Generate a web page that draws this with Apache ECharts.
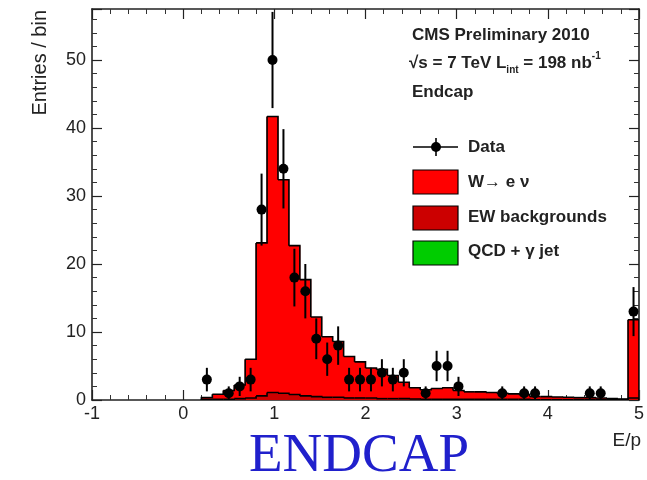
<!DOCTYPE html>
<html><head><meta charset="utf-8">
<script src="https://cdn.jsdelivr.net/npm/echarts@6/dist/echarts.min.js"></script>
<style>html,body{margin:0;padding:0;background:#fff}#c{width:647px;height:480px}</style>
</head><body><div id="c"></div>
<script>
// E/p histogram bins (lower edges), width 0.12
const binLow = [0.20,0.32,0.44,0.56,0.68,0.80,0.92,1.04,1.16,1.28,1.40,1.52,1.64,1.76,1.88,2.00,2.12,2.24,2.36,2.48,2.60,2.72,2.84,2.96,3.08,3.20,3.32,3.44,3.56,3.68,3.80,3.92,4.04,4.16,4.28,4.40,4.52,4.64,4.76,4.88];
const binWidth = 0.12;
const dataCounts = [3,0,1,2,3,28,50,34,18,16,9,6,8,3,3,3,4,3,4,0,1,5,5,2,0,0,0,1,0,1,1,0,0,0,0,1,1,0,0,13];
const qcdValues = [0,0,0,0,0,0,0,0,0,0,0,0,0,0,0,0,0,0,0,0,0,0,0,0,0,0,0,0,0,0,0,0,0,0,0,0,0,0,0,0];
const ewValues = [0.05,0.1,0.1,0.2,0.3,0.6,1.1,1.0,0.8,0.6,0.5,0.4,0.4,0.3,0.3,0.3,0.2,0.2,0.2,0.15,0.1,0.1,0.1,0.1,0.1,0.1,0.1,0.1,0.1,0.1,0.05,0.05,0.05,0.05,0.05,0.05,0.05,0.05,0.05,0.3];
const wenuValues = [0.3,0.75,1.3,2.0,5.7,22.5,40.6,31.4,21.9,17.1,11.7,8.9,8.2,6.1,5.3,4.4,4.3,3.4,2.4,1.65,1.4,1.6,1.7,1.3,1.1,1.1,1.0,0.9,0.8,0.7,0.45,0.45,0.4,0.35,0.3,0.3,0.25,0.15,0.1,11.5];
const xTicks = [-1,0,1,2,3,4,5];
const yTicks = [0,10,20,30,40,50];

const FONT = 'Liberation Sans, Arial, sans-serif';
const chart = echarts.init(document.getElementById('c'), null, {renderer:'canvas'});

function stackData(vals, bases){
  return vals.map((v,i)=>[binLow[i], v, bases[i]]);
}
const base0 = qcdValues.map(()=>0);
const base1 = qcdValues.slice();
const base2 = qcdValues.map((q,i)=>q+ewValues[i]);
const total = base2.map((b,i)=>b+wenuValues[i]);

function rectRender(color){
  return function(params, api){
    const x0 = api.value(0), v = api.value(1), b = api.value(2);
    if (v <= 0) return null;
    const p0 = api.coord([x0, b]);
    const p1 = api.coord([x0 + binWidth, b + v]);
    return {type:'rect', shape:{x:p0[0]-0.4, y:p1[1], width:p1[0]-p0[0]+0.8, height:p0[1]-p1[1]},
      style:{fill:color, stroke:null}};
  };
}
function outlineData(tops){
  return tops.map((t,i)=>[binLow[i], t, i+1<tops.length ? tops[i+1] : 0, i===0 ? 1 : 0]);
}
function outlineRender(params, api){
  const x0 = api.value(0), t = api.value(1), nt = api.value(2), first = api.value(3);
  const a = api.coord([x0, t]);
  const b = api.coord([x0 + binWidth, t]);
  const c = api.coord([x0 + binWidth, nt]);
  const pts = [];
  if (first) pts.push(api.coord([x0, 0]));
  pts.push(a, b, c);
  return {type:'polyline', shape:{points:pts}, style:{stroke:'#000', lineWidth:1.6, fill:null}};
}
const pointData = [];
dataCounts.forEach((n,i)=>{ if(n>0) pointData.push([binLow[i]+binWidth/2, n]); });

function errRender(params, api){
  const x = api.value(0), n = api.value(1);
  const e = Math.sqrt(n);
  const p0 = api.coord([x, n - e]);
  const p1 = api.coord([x, n + e]);
  return {type:'line', shape:{x1:p0[0], y1:p0[1], x2:p1[0], y2:p1[1]}, style:{stroke:'#000', lineWidth:2}};
}

function axisLine(){ return {show:true, onZero:false, lineStyle:{color:'#222', width:1.6}}; }
const tickStyle = {show:true, inside:true, length:10, lineStyle:{color:'#222', width:1.2}};
const minorStyle = {show:true, splitNumber:5, length:5, lineStyle:{color:'#333', width:1}};

const option = {
  animation:false,
  backgroundColor:'#fff',
  grid:{left:92, right:3, top:9, bottom:80, containLabel:false},
  xAxis:[
    {type:'value', min:xTicks[0], max:xTicks[xTicks.length-1], interval:1, position:'bottom',
      axisLine:axisLine(), splitLine:{show:false}, axisTick:tickStyle, minorTick:minorStyle,
      axisLabel:{fontSize:18, color:'#222', fontFamily:FONT, margin:5}},
    {type:'value', min:xTicks[0], max:xTicks[xTicks.length-1], interval:1, position:'top',
      axisLine:axisLine(), splitLine:{show:false}, axisTick:tickStyle, minorTick:minorStyle,
      axisLabel:{show:false}}
  ],
  yAxis:[
    {type:'value', min:yTicks[0], max:57.5, interval:10, position:'left',
      axisLine:axisLine(), splitLine:{show:false}, axisTick:tickStyle, minorTick:minorStyle,
      axisLabel:{fontSize:18, color:'#222', fontFamily:FONT, margin:6, showMaxLabel:false,
        formatter:v=> yTicks.indexOf(v)>=0 ? String(v) : ''}},
    {type:'value', min:yTicks[0], max:57.5, interval:10, position:'right',
      axisLine:axisLine(), splitLine:{show:false}, axisTick:tickStyle, minorTick:minorStyle,
      axisLabel:{show:false}}
  ],
  series:[
    {name:'QCD + γ jet', type:'custom', renderItem:rectRender('#00cc00'), data:stackData(qcdValues, base0), clip:true, z:2},
    {name:'EW backgrounds', type:'custom', renderItem:rectRender('#cc0000'), data:stackData(ewValues, base1), clip:true, z:2},
    {name:'W→ e ν', type:'custom', renderItem:rectRender('#ff0000'), data:stackData(wenuValues, base2), clip:true, z:2},
    {type:'custom', renderItem:outlineRender, data:outlineData(base2), clip:true, z:3},
    {type:'custom', renderItem:outlineRender, data:outlineData(total), clip:true, z:3},
    {type:'custom', renderItem:errRender, data:pointData, clip:true, z:4},
    {name:'Data', type:'scatter', data:pointData, symbol:'circle', symbolSize:10, itemStyle:{color:'#000', opacity:1}, z:5, clip:true}
  ],
  graphic:[
    {type:'text', x:40, y:10, rotation:Math.PI/2, style:{text:'Entries / bin', font:'20px '+FONT, fill:'#222', align:'right', verticalAlign:'middle'}},
    {type:'text', x:641, y:441, style:{text:'E/p', font:'19px '+FONT, fill:'#222', align:'right', verticalAlign:'middle'}},
    {type:'text', x:359, y:457, style:{text:'ENDCAP', font:'55px Liberation Serif, Times New Roman, serif', fill:'#2020cc', align:'center', verticalAlign:'middle'}},
    {type:'text', x:412, y:35, style:{text:'CMS Preliminary 2010', font:'bold 17px '+FONT, fill:'#222', verticalAlign:'middle'}},
    {type:'text', x:409, y:63, style:{
      text:'{m|√s = 7 TeV L}{s|int}{m| = 198 nb}{u|-1}',
      verticalAlign:'middle',
      rich:{
        m:{font:'bold 17px '+FONT, fill:'#222', lineHeight:24, verticalAlign:'middle'},
        s:{font:'bold 10px '+FONT, fill:'#222', lineHeight:24, verticalAlign:'bottom'},
        u:{font:'bold 10px '+FONT, fill:'#222', lineHeight:24, verticalAlign:'top'}
      }}},
    {type:'text', x:412, y:92, style:{text:'Endcap', font:'bold 17px '+FONT, fill:'#222', verticalAlign:'middle'}},
    // legend
    {type:'line', shape:{x1:413, y1:147, x2:458, y2:147}, style:{stroke:'#000', lineWidth:1.6}},
    {type:'line', shape:{x1:436, y1:138, x2:436, y2:156}, style:{stroke:'#000', lineWidth:1.6}},
    {type:'circle', shape:{cx:436, cy:147, r:5}, style:{fill:'#000'}},
    {type:'text', x:468, y:147, style:{text:'Data', font:'bold 17px '+FONT, fill:'#222', verticalAlign:'middle'}},
    {type:'rect', shape:{x:413, y:170, width:45, height:24}, style:{fill:'#ff0000', stroke:'#000', lineWidth:1.2}},
    {type:'text', x:468, y:182, style:{text:'W→ e ν', font:'bold 17px '+FONT, fill:'#222', verticalAlign:'middle'}},
    {type:'rect', shape:{x:413, y:206, width:45, height:24}, style:{fill:'#cc0000', stroke:'#000', lineWidth:1.2}},
    {type:'text', x:468, y:217, style:{text:'EW backgrounds', font:'bold 17px '+FONT, fill:'#222', verticalAlign:'middle'}},
    {type:'rect', shape:{x:413, y:241, width:45, height:24}, style:{fill:'#00cc00', stroke:'#000', lineWidth:1.2}},
    {type:'text', x:468, y:251, style:{text:'QCD + γ jet', font:'bold 17px '+FONT, fill:'#222', verticalAlign:'middle'}}
  ]
};
chart.setOption(option);
</script>
</body></html>
